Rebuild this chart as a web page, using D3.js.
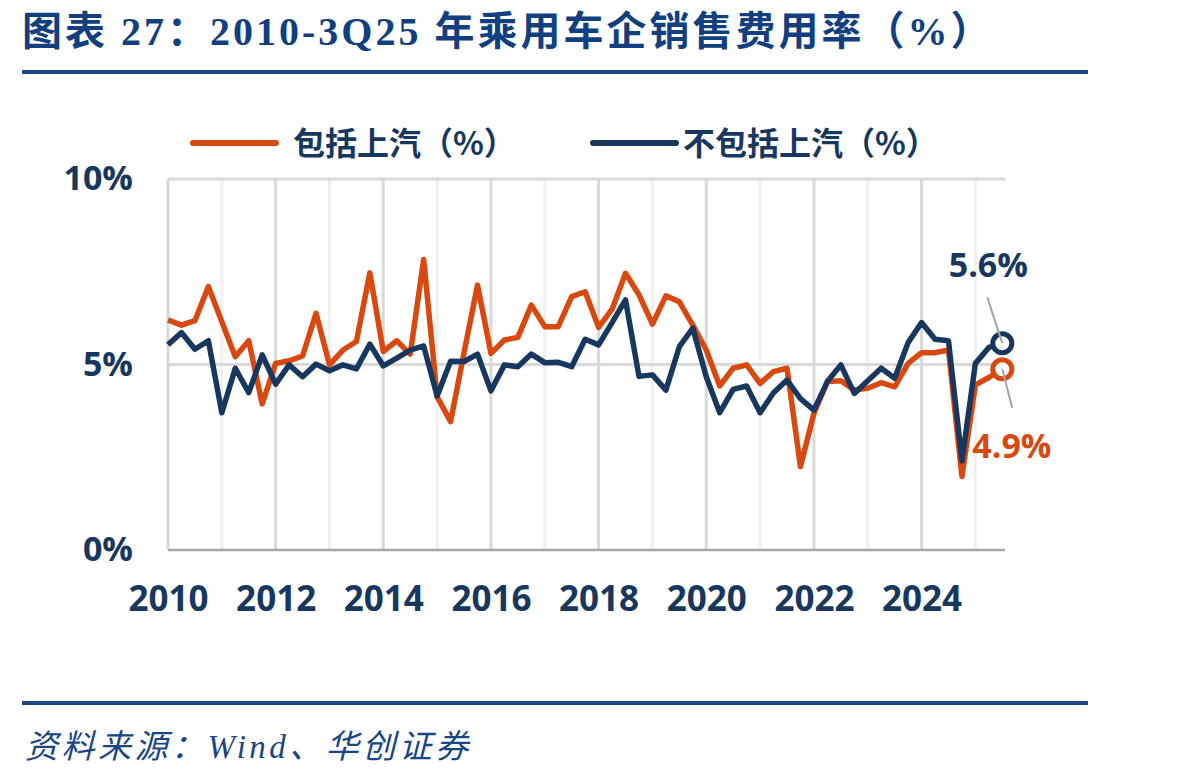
<!DOCTYPE html>
<html>
<head>
<meta charset="utf-8">
<script src="https://cdn.jsdelivr.net/npm/d3@7"></script>
<style>
  body { margin: 0; background: #fff; }
  text { font-family: "Open Sans", "Noto Sans CJK SC", sans-serif; }
</style>
</head>
<body>
<div id="chart"></div>
<script>
// data
var years = [2010, 2011, 2012, 2013, 2014, 2015, 2016, 2017, 2018, 2019, 2020, 2021, 2022, 2023, 2024, 2025];
var quarters = ["Q1", "Q2", "Q3", "Q4"];
var yTicks = [0, 5, 10];
var xTickYears = [2010, 2012, 2014, 2016, 2018, 2020, 2022, 2024];
var seriesNames = ["包括上汽（%）", "不包括上汽（%）"];

var withSaic = [6.20, 6.06, 6.18, 7.10, 6.15, 5.21, 5.64, 3.94,
  5.03, 5.10, 5.23, 6.38, 4.99, 5.39, 5.62, 7.47,
  5.35, 5.64, 5.28, 7.83, 4.13, 3.46, 5.32, 7.14,
  5.30, 5.66, 5.73, 6.60, 6.02, 6.02, 6.83, 6.96,
  6.00, 6.49, 7.46, 6.88, 6.09, 6.85, 6.69, 6.06,
  5.39, 4.42, 4.90, 4.99, 4.49, 4.81, 4.90, 2.25,
  3.68, 4.54, 4.56, 4.31, 4.36, 4.51, 4.40, 5.03,
  5.32, 5.32, 5.39, 1.98, 4.45, 4.65, 4.87];

var withoutSaic = [5.53, 5.86, 5.41, 5.64, 3.70, 4.90, 4.24, 5.26,
  4.47, 4.99, 4.67, 5.01, 4.83, 4.99, 4.88, 5.55,
  4.96, 5.17, 5.39, 5.50, 4.15, 5.09, 5.08, 5.28,
  4.29, 4.99, 4.94, 5.28, 5.05, 5.06, 4.94, 5.68,
  5.53, 6.13, 6.74, 4.68, 4.72, 4.31, 5.48, 5.98,
  4.67, 3.70, 4.33, 4.42, 3.70, 4.24, 4.58, 4.08,
  3.77, 4.54, 4.99, 4.22, 4.56, 4.90, 4.63, 5.59,
  6.13, 5.68, 5.64, 2.40, 5.03, 5.46, 5.57];

var lastLabels = ["4.9%", "5.6%"];

// quarter time value for each point (2010Q1 .. 2025Q3)
var periods = [];
years.forEach(function(y) {
  quarters.forEach(function(q, qi) {
    if (periods.length < withSaic.length) periods.push(y + qi / 4);
  });
});

var orange = "#d9480f", navy = "#17375e", ruleBlue = "#1a4585";

var W = 1198, H = 779;
var svg = d3.select("#chart").append("svg")
  .attr("width", W)
  .attr("height", H);

svg.append("rect").attr("width", W).attr("height", H).attr("fill", "#fff");

// title
svg.append("text")
  .attr("x", 22)
  .attr("y", 45)
  .attr("fill", "#123f80")
  .style("font-family", "'Liberation Serif', 'Noto Sans CJK SC', serif")
  .style("font-size", "40px")
  .style("font-weight", "bold")
  .style("letter-spacing", "3px")
  .text("图表 27：2010-3Q25 年乘用车企销售费用率（%）");

// top + bottom rules
svg.append("line").attr("x1", 22).attr("x2", 1088).attr("y1", 72).attr("y2", 72)
  .attr("stroke", ruleBlue).attr("stroke-width", 4);
svg.append("line").attr("x1", 22).attr("x2", 1088).attr("y1", 703).attr("y2", 703)
  .attr("stroke", ruleBlue).attr("stroke-width", 4);

// source
svg.append("text")
  .attr("x", 25)
  .attr("y", 758)
  .attr("fill", "#1a4585")
  .style("font-family", "'Liberation Serif', 'Noto Sans CJK SC', serif")
  .style("font-size", "33px")
  .style("font-style", "italic")
  .style("letter-spacing", "3.5px")
  .text("资料来源：Wind、华创证券");

// scales
var x = d3.scaleLinear().domain([2010, 2025.55]).range([168, 1005]);
var y = d3.scaleLinear().domain([0, 10]).range([550, 179]);

var g = svg.append("g");

// vertical gridlines, each year
g.selectAll(".vgrid")
  .data(years)
  .enter().append("line")
  .attr("class", "vgrid")
  .attr("x1", function(d) { return x(d); })
  .attr("x2", function(d) { return x(d); })
  .attr("y1", y(10))
  .attr("y2", y(0))
  .attr("stroke", function(d) { return d % 2 == 0 ? "#d9d9d9" : "#f0f0f0"; })
  .attr("stroke-width", 3);

// horizontal gridlines
g.selectAll(".hgrid")
  .data(yTicks.filter(function(d) { return d > 0; }))
  .enter().append("line")
  .attr("class", "hgrid")
  .attr("x1", x.range()[0])
  .attr("x2", x.range()[1])
  .attr("y1", function(d) { return y(d); })
  .attr("y2", function(d) { return y(d); })
  .attr("stroke", "#d9d9d9")
  .attr("stroke-width", 3);

// base axis line
g.append("line")
  .attr("x1", x.range()[0]).attr("x2", x.range()[1])
  .attr("y1", y(0)).attr("y2", y(0))
  .attr("stroke", "#a6a6a6").attr("stroke-width", 2.5);

// axes
var yAxis = d3.axisLeft(y)
  .tickValues(yTicks)
  .tickSize(0)
  .tickPadding(35)
  .tickFormat(function(d) { return d + "%"; });

g.append("g")
  .attr("transform", "translate(" + x.range()[0] + ",0)")
  .call(yAxis)
  .call(function(s) { s.select(".domain").remove(); })
  .selectAll("text")
  .attr("fill", navy)
  .style("font-size", "34px")
  .style("font-weight", "bold")
  .style("font-family", "'Open Sans', sans-serif");

var xAxis = d3.axisBottom(x)
  .tickValues(xTickYears)
  .tickSize(0)
  .tickPadding(36)
  .tickFormat(d3.format("d"));

g.append("g")
  .attr("transform", "translate(0," + y(0) + ")")
  .call(xAxis)
  .call(function(s) { s.select(".domain").remove(); })
  .selectAll("text")
  .attr("fill", navy)
  .style("font-size", "35px")
  .style("font-weight", "bold")
  .style("font-family", "'Open Sans', sans-serif");

// lines
var line = d3.line()
  .x(function(d, i) { return x(periods[i]); })
  .y(function(d) { return y(d); });

var series = [
  {name: seriesNames[0], values: withSaic, color: orange},
  {name: seriesNames[1], values: withoutSaic, color: navy}
];

series.forEach(function(s) {
  g.append("path")
    .datum(s.values)
    .attr("d", line)
    .attr("fill", "none")
    .attr("stroke", s.color)
    .attr("stroke-width", 5.5)
    .attr("stroke-linejoin", "round");
});

// end markers
var last = withSaic.length - 1;
var lx = x(periods[last]);
series.forEach(function(s) {
  g.append("circle")
    .attr("cx", lx)
    .attr("cy", y(s.values[last]))
    .attr("r", 9.5)
    .attr("fill", "#fff")
    .attr("stroke", s.color)
    .attr("stroke-width", 5);
});

// leader lines + labels
var yo = y(withSaic[last]), yn = y(withoutSaic[last]);
g.append("line")
  .attr("x1", lx).attr("y1", yn)
  .attr("x2", lx - 15).attr("y2", yn - 46)
  .attr("stroke", "#a6a6a6").attr("stroke-width", 2);
g.append("line")
  .attr("x1", lx).attr("y1", yo)
  .attr("x2", lx + 10).attr("y2", yo + 39)
  .attr("stroke", "#a6a6a6").attr("stroke-width", 2);

g.append("text")
  .attr("x", lx - 14).attr("y", yn - 66)
  .attr("text-anchor", "middle")
  .attr("fill", navy)
  .style("font-size", "34px").style("font-weight", "bold")
  .text(lastLabels[1]);
g.append("text")
  .attr("x", lx - 30).attr("y", yo + 89)
  .attr("fill", orange)
  .style("font-size", "34px").style("font-weight", "bold")
  .text(lastLabels[0]);

// legend
var legend = svg.append("g");
var legendX = [193, 593];
series.forEach(function(s, i) {
  legend.append("line")
    .attr("x1", legendX[i]).attr("x2", legendX[i] + 83)
    .attr("y1", 143).attr("y2", 143)
    .attr("stroke", s.color).attr("stroke-width", 6)
    .attr("stroke-linecap", "round");
  legend.append("text")
    .attr("x", legendX[i] + 100 - (i == 1 ? 10 : 0))
    .attr("y", 155)
    .attr("fill", navy)
    .style("font-family", "'Noto Sans CJK SC', sans-serif")
    .style("font-size", "32px")
    .style("font-weight", "bold")
    .text(s.name);
});
</script>
</body>
</html>
